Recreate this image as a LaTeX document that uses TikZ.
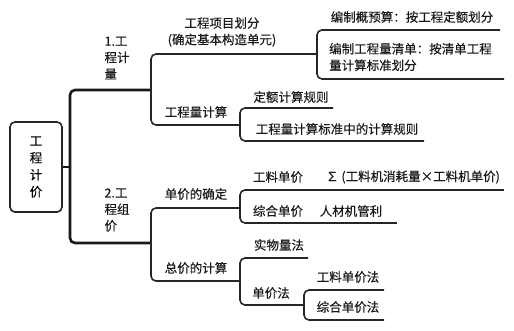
\documentclass[tikz,border=0pt]{standalone}
\usepackage{fontspec}
\setmainfont{Noto Sans CJK SC}[FakeBold=0.35]
\usetikzlibrary{positioning}
\tikzstyle{trunk} = [line width=2.6pt, rounded corners=5pt, draw=black!90]
\tikzstyle{link} = [line width=1.6pt, rounded corners=5pt, draw=black!85]
\tikzstyle{txt} = [inner sep=0pt, font=\fontsize{12.5}{16.5}\selectfont, text=black!90]
\tikzstyle{rootbox} = [draw=black!85, line width=1.6pt, rounded corners=5pt, minimum width=52pt, minimum height=90pt, align=center, font=\fontsize{12.5}{17}\selectfont]

\begin{document}
\begin{tikzpicture}[x=1pt,y=-1pt]
    \useasboundingbox (0,0) rectangle (514,330);
    \node (root) [rootbox] at (36,167) {工\\程\\计\\价};

    % line ends
    \coordinate (hub) at (70,167);
    \coordinate (jl-e) at (151,90);
    \coordinate (zj-e) at (151,243);
    \coordinate (xm-e) at (317,54);
    \coordinate (gl-e) at (240,125);
    \coordinate (dj-e) at (240,208);
    \coordinate (zc-e) at (240,281);
    \coordinate (gs-e) at (500,30);
    \coordinate (qd-e) at (504,79);
    \coordinate (de-e) at (333,108);
    \coordinate (bz-e) at (424,141);
    \coordinate (gd-e) at (310,190);
    \coordinate (zd-e) at (310,223);
    \coordinate (sum-e) at (504,190);
    \coordinate (rc-e) at (397,223);
    \coordinate (sw-e) at (308,258);
    \coordinate (djf-e) at (304,305);
    \coordinate (gf-e) at (384,290);
    \coordinate (zf-e) at (384,320);

    % labels
    \node (jl) [txt, align=left] at (117,58) {1.工\\程计\\量};
    \node (zj) [txt, align=left] at (117,210) {2.工\\程组\\价};
    \node (xm) [txt, align=center] at (222,32) {工程项目划分\\(确定基本构造单元)};
    \node (gl) [txt] at (196,112) {工程量计算};
    \node (dj) [txt] at (196,194) {单价的确定};
    \node (zc) [txt] at (196,268) {总价的计算};
    \node (gs) [txt] at (412,17) {编制概预算：按工程定额划分};
    \node (qd) [txt, align=left, anchor=west] at (329,57) {编制工程量清单：按清单工程\\量计算标准划分};
    \node (de) [txt] at (291,97) {定额计算规则};
    \node (bz) [txt] at (337,129) {工程量计算标准中的计算规则};
    \node (gd) [txt] at (278,177) {工料单价};
    \node (sum) [txt] at (413,177) {∑ (工料机消耗量×工料机单价)};
    \node (zd) [txt] at (278,211) {综合单价};
    \node (rc) [txt] at (351,211) {人材机管利};
    \node (sw) [txt] at (279,245) {实物量法};
    \node (djf) [txt] at (271,293) {单价法};
    \node (gf) [txt] at (348,277) {工料单价法};
    \node (zf) [txt] at (348,307) {综合单价法};

    % connectors
    \draw [trunk] (root.east) -- (hub);
    \draw [trunk] (hub) |- (jl-e);
    \draw [trunk] (hub) |- (zj-e);
    \draw [link] (jl-e) |- (xm-e);
    \draw [link] (jl-e) |- (gl-e);
    \draw [link] (xm-e) |- (gs-e);
    \draw [link] (xm-e) |- (qd-e);
    \draw [link] (gl-e) |- (de-e);
    \draw [link] (gl-e) |- (bz-e);
    \draw [link] (zj-e) |- (dj-e);
    \draw [link] (zj-e) |- (zc-e);
    \draw [link] (dj-e) |- (gd-e);
    \draw [link] (dj-e) |- (zd-e);
    \draw [link] (gd-e) -- (sum-e);
    \draw [link] (zd-e) -- (rc-e);
    \draw [link] (zc-e) |- (sw-e);
    \draw [link] (zc-e) |- (djf-e);
    \draw [link] (djf-e) |- (gf-e);
    \draw [link] (djf-e) |- (zf-e);
\end{tikzpicture}
\end{document}
